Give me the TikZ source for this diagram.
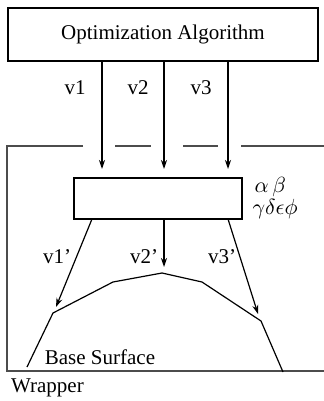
\documentclass[tikz,border=0pt]{standalone}
\usepackage{amsmath}
\usepackage{amssymb}
\usepackage{fontspec}
\setmainfont{Liberation Serif}
\usepackage{tikz}
\usetikzlibrary{arrows.meta}

\begin{document}
\begin{tikzpicture}[x=0.5pt,y=-0.5pt,line width=0.6pt,
  >={Stealth[length=4.5pt,width=3pt]},
  font=\fontsize{10.5}{12}\selectfont,
  box/.style={draw,inner sep=0pt},
  frame/.style={black!70,line width=0.8pt}]
\useasboundingbox (0,0) rectangle (323,401);
% boxes
\node[box,minimum width=155pt,minimum height=26.5pt] (algo) at (163,34.5) {Optimization Algorithm};
\node[box,minimum width=84pt,minimum height=20.5pt] (mix) at (158,198.5) {};
% arrow ends
\coordinate (t1) at (102,169);
\coordinate (t2) at (164,169);
\coordinate (t3) at (228,169);
\coordinate (s1) at (92,219);
\coordinate (s3) at (228,219);
% base surface
\coordinate (b0) at (27,367);
\coordinate (b1) at (53,313);
\coordinate (b2) at (113,282);
\coordinate (b3) at (162,273);
\coordinate (b4) at (202,282);
\coordinate (b5) at (261,321);
\coordinate (b6) at (283,372);
\coordinate (u1) at (56,307);
\coordinate (u2) at (164,267);
\coordinate (u3) at (258,314);
% wrapper frame, broken where the arrows pass
\draw[frame] (83,146) -- (7,146) -- (7,371) -- (330,371);
\draw[frame] (115,146) -- (151,146);
\draw[frame] (183,146) -- (218,146);
\draw[frame] (241,146) -- (330,146);
% algorithm to mixer
\draw[->] (algo.south -| t1) -- (t1);
\draw[->] (algo.south -| t2) -- (t2);
\draw[->] (algo.south -| t3) -- (t3);
% mixer to surface
\draw[->] (s1) -- (u1);
\draw[->] (mix.south -| u2) -- (u2);
\draw[->] (s3) -- (u3);
\draw (b0) -- (b1) -- (b2) -- (b3) -- (b4) -- (b5) -- (b6);
% labels
\node[anchor=east] (lv1) at (93,88) {v1};
\node[anchor=east] (lv2) at (156,88) {v2};
\node[anchor=east] (lv3) at (219,88) {v3};
\node (lw1) at (57,257) {v1'};
\node (lw2) at (144,257) {v2'};
\node (lw3) at (222,257) {v3'};
\node[anchor=west,inner sep=0pt] (ab) at (254,187) {$\alpha\,\beta$};
\node[anchor=west,inner sep=0pt] (gd) at (252,209) {$\gamma\delta\epsilon\phi$};
\node (base) at (100,357) {Base Surface};
\node (wrap) at (47.5,388) {Wrapper};
\end{tikzpicture}
\end{document}
